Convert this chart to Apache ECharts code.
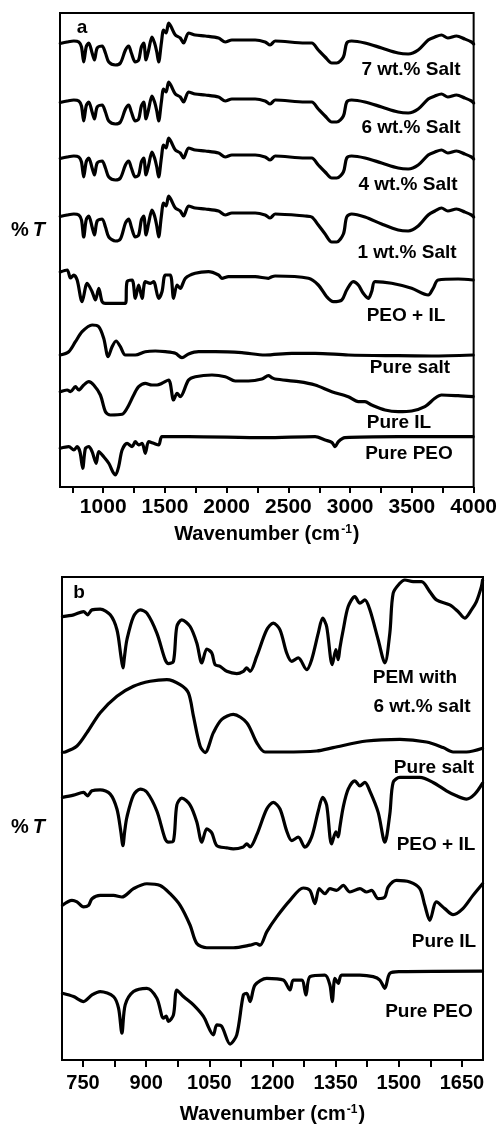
<!DOCTYPE html>
<html><head><meta charset="utf-8">
<script src="https://cdn.jsdelivr.net/npm/echarts@6/dist/echarts.min.js"></script>
<style>html,body{margin:0;padding:0;background:#fff}#c{width:500px;height:1125px}</style>
</head><body><div id="c"></div>
<script>
// ---------- Panel a (wavenumber cm-1, %T arbitrary offset units) ----------
const ticksA = [1000, 1500, 2000, 2500, 3000, 3500, 4000];
const minorTicksA = [750, 1000, 1250, 1500, 1750, 2000, 2250, 2500, 2750, 3000, 3250, 3500, 3750, 4000];
const wnSalt = [652,708,762,802,824,842,862,883,910,929,951,991,1018,1045,1099,1139,1180,1206,1228,1260,1287,1309,1328,1347,1368,1395,1416,1434,1449,1471,1489,1509,1530,1551,1584,1624,1651,1691,1745,1826,1934,1988,2042,2231,2311,2352,2392,2635,2689,2742,2797,2851,2891,2945,2972,3012,3120,3255,3389,3470,3551,3632,3686,3740,3791,3861,3928,3983,4000];
const salt7 = [443.5,445,446,445,440,425,440,444,434,427,439,441,434,425,422,424,437,441,434,425,427,440,444,427,437,450,444,435,425,444,457,454,464,460,452,449,444,454,452,451,449,445,447,447,445,442,446,444,444,437,430,424,424,430,444,446,444,439,434,433,437,447,450,452,449,451,448,445,443];
const salt6 = [384.5,386,387,386,381,366,381,385,375,368,380,382,375,366,363,365,378,382,375,366,368,381,385,368,378,391,385,376,366,385,398,395,405,401,393,390,385,395,393,392,390,386,388,388,386,383,387,385,385,378,371,365,365,371,385,387,385,380,375,374,378,388,391,393,390,392,389,386,384];
const salt4 = [328.5,330,331,330,325,310,325,329,319,312,324,326,319,310,307,309,322,326,319,310,312,325,329,312,322,335,329,320,310,329,342,339,349,345,337,334,329,339,337,336,334,330,332,332,330,327,331,329,329,322,315,309,309,315,329,331,329,324,319,318,322,332,335,337,334,336,333,330,328];
const salt1 = [270.5,272,273,272,267,250,267,271,260,252,266,268,260,250,246,248,264,268,260,250,252,267,271,252,264,277,271,261,250,271,284,281,291,287,279,276,271,281,279,278,276,272,274,274,272,269,273,271,270,262,253,245,245,253,270,273,270,263,257,256,261,272,276,279,276,278,275,272,270];

const wnPeoIlA = [652,708,735,762,789,829,870,910,937,964,991,1018,1180,1193,1234,1260,1287,1315,1341,1382,1408,1449,1476,1503,1543,1570,1598,1624,1665,1745,1853,1934,1961,2015,2231,2338,2366,2392,2662,2742,2810,2864,2932,2972,3025,3066,3106,3147,3174,3201,3336,3498,3632,3672,3713,3874,3996];
const peoIlA = [215,217,209,212,207,185.3,203.7,195.3,187,198.7,185.3,183.7,183.7,205.3,207,188.7,202,188.7,205.3,203.7,205.3,188.7,195.3,212,212,188.7,202,198.7,208.7,213.7,215.3,212,208.7,210.3,210.3,208.7,210.3,211,208.7,202,190.3,185.3,187,197,205.3,202,193.7,188.7,195.3,205.3,203.7,198.7,192,198.7,207,208,207];

const wnSaltPureA = [652,721,775,829,910,964,1004,1040,1072,1104,1139,1180,1260,1341,1422,1503,1584,1638,1691,1772,1907,2123,2311,2527,2716,2985,3389,3659,3996];
const saltPureA = [132,135.3,145.3,155.3,162,160.3,148.7,130.3,140.3,146,140.3,132,132,135.3,136,135.3,133.7,129.3,133,135.3,135.3,134.3,132,133.7,133.7,132,131.3,131,132];

const wnIlA = [652,708,735,775,802,842,883,923,977,1018,1058,1153,1193,1247,1287,1341,1395,1436,1476,1530,1570,1598,1624,1691,1746,1881,1988,2069,2176,2285,2338,2366,2392,2581,2716,2851,2985,3066,3120,3174,3282,3389,3498,3605,3686,3740,3874,3996];
const ilA = [95.3,97,95.3,100.3,97,102,105.3,102,92,75.3,72,72.7,78.7,92,100.3,103.7,102,102,103.7,107,87,93.7,90.3,107,110.3,112,110.3,106,106,108,111.3,109.3,108,105.3,102,95.3,90.3,85.3,85.3,82,77,75.3,76,80.3,88.7,92,91.3,90.3];

const wnPeoA = [652,721,762,789,812,834,856,883,910,943,964,1004,1045,1077,1099,1125,1153,1193,1234,1260,1287,1315,1341,1368,1408,1449,1476,1584,1691,2311,2716,2797,2851,2878,2904,2958,3389,3996];
const peoA = [38.7,40.3,37,40.3,35,18.7,38.7,40.3,35.3,23.7,35.3,30.3,23.7,15.3,12,20.3,37,43.7,40.3,45.3,42,43.7,33.7,45.3,43.7,42,50.3,50.3,50.3,49.3,50.3,47,44.7,40.3,45.3,49.3,50.3,50.3];

// ---------- Panel b ----------
const ticksB = [750, 900, 1050, 1200, 1350, 1500, 1650];
const minorTicksB = [750, 825, 900, 975, 1050, 1125, 1200, 1275, 1350, 1425, 1500, 1575, 1650];
const wnPemB = [701,727.5,751.2,760.7,771.2,790.8,814.6,830.5,839.5,844.7,849,854.2,869.8,885.7,901.6,925.3,945,952.9,964.7,972.8,984.6,1004.3,1020.2,1032.1,1043.9,1055.8,1063.6,1075.5,1091.4,1115.1,1130.8,1138.8,1146.7,1162.5,1186.3,1201.9,1217.8,1233.7,1245.6,1261.2,1281.1,1293,1308.7,1319.1,1328.6,1341.9,1350.6,1356.1,1360.1,1368,1379.8,1395.7,1407.6,1419.4,1431.3,1451,1466.9,1478.7,1486.6,1502.5,1514.3,1534,1553.9,1573.6,1589.5,1621.1,1640.7,1656.6,1672.5,1684.4,1696.2,1699];
const pemB = [445.3,447,450.3,447,452,452.7,447,432,407,393.7,407,422,445.3,452,448.7,428.7,402,398,400.3,435.3,442,435.3,418.7,398.7,412.7,408.7,397,395.3,390.3,388,390.3,393.7,390.3,405.3,432,438.7,432,408.7,400.3,403.7,392,402,428.7,443.7,435.3,397,412,402,413.7,432,455.3,465.3,458.7,462,452,422,398.7,428.7,468.7,478.7,482,480.3,480.3,470.3,462,457,450.3,443.7,452,460.3,475.3,482];

const wnSaltB = [701,707.8,735.6,759.3,790.8,830.5,869.8,909.4,949.1,980.6,1000.3,1012.2,1028,1039.9,1059.6,1079.5,1107,1138.8,1162.5,1182.2,1225.6,1304.9,1344.2,1423.5,1502.5,1565.8,1605.2,1628.9,1660.7,1699];
const saltB = [309,309.3,315.3,328.7,348.7,365.3,375.3,380.3,382,377,368.7,345.3,315.3,308.7,328.7,342,347,338.7,318.7,309.3,309.3,310.3,313.7,320.3,322,319.3,313.7,309.3,309.3,313];

const wnPeoIlB = [701,727.5,751.2,760.7,771.2,790.8,814.6,830.5,839.5,844.7,849,854.2,869.8,885.7,901.6,925.3,945,952.9,964.7,972.8,984.6,1004.3,1020.2,1032.1,1043.9,1055.8,1067.7,1091.4,1107,1130.8,1138.8,1146.7,1162.5,1186.3,1201.9,1217.8,1233.7,1245.6,1261.2,1277.1,1293,1308.7,1319.1,1328.6,1340.4,1350.6,1356.1,1360.1,1368,1379.8,1395.7,1407.6,1419.4,1431.3,1451,1466.9,1478.7,1486.6,1502.5,1549.9,1581.5,1613.2,1636.9,1660.7,1680.4,1699];
const peoIlB = [263.7,266,268.7,265.3,270.3,271.3,267,252,230,215.3,230,244,266,272,269,250,222,218.7,220,256,263,256,239,218.7,232,228,215.3,213,212,214,217,214,226,252,258.7,252,230,220.3,223.7,213.7,224,250,263.7,256,217,229,224,234,254,272,280.3,275.3,278.7,270,248.7,218.7,247,278.7,283.7,283.7,278.7,270.3,265.3,262,267,278];

const wnIlB = [701,723.7,735.6,751.2,763.1,771.2,790.8,822.4,842.3,869.8,901.6,933.2,956.9,980.6,1004.3,1020.2,1043.9,1107,1146.7,1160.9,1170.4,1186.3,1210,1241.5,1273.1,1288.9,1300.8,1311,1324.5,1336.4,1352.3,1368,1383.9,1407.6,1423.5,1435.3,1451,1466.9,1474.7,1494.6,1526.2,1549.9,1561.8,1573.6,1589.5,1609.2,1628.9,1652.2,1676.2,1699];
const ilB = [155.3,160.3,158.7,153.7,155.3,162,165.3,165.3,163.7,172,177,175.3,167,155.3,135.3,117,112.7,112.7,115.3,117,115.3,128.7,143.7,160.3,172.7,170.3,157,172,167,172,170.3,175.3,168.7,172,168.7,170.3,162,163.7,173.7,180.3,178.7,172,155.3,140.3,158.7,152,146,152,165.3,177];

const wnPeoB = [701,727.5,751.2,771.2,790.8,822.4,834.3,842.3,850.1,869.8,901.6,925.3,941,947.4,952.9,964.7,972.8,988.4,1012.2,1035.9,1059.6,1067.7,1079.5,1099.2,1115.1,1130.8,1138.8,1146.7,1158.5,1186.3,1225.6,1241.5,1249.4,1269.3,1279.5,1289,1324.5,1336.4,1341.9,1348.3,1356.1,1364.2,1407.6,1439.1,1455,1466.9,1478.7,1502.5,1699];
const peoB = [67,63.7,58.7,65.3,68.7,63.7,52,27,55.3,68.7,72,62,42,44,38.7,45.3,70.3,63.7,55.3,43.7,25.3,35.3,33.7,16,25.3,65.3,67,58.7,75.3,82,80.3,70.3,80.3,80.3,65.3,83.7,85.3,75.3,58.7,82,77,85.3,85.3,83.7,80.3,72,87,88.7,89.3];

const zip = (xs, ys) => xs.map((x, i) => [x, ys[i]]);
const FONT = '"Liberation Sans", Arial, sans-serif';

function line(name, xs, ys, idx) {
  return {
    name, type: 'line', xAxisIndex: idx, yAxisIndex: idx,
    data: zip(xs, ys), showSymbol: false, smooth: 0.3, clip: true,
    lineStyle: { color: '#000', width: 3.2, join: 'round', cap: 'round' }, silent: true, animation: false
  };
}

function xAxis(gridIndex, min, max, labels, ticks, margin, fs, gap, tickLen) {
  return {
    type: 'value', gridIndex, min, max,
    axisLine: { show: false },
    axisTick: { show: true, inside: false, length: tickLen, customValues: ticks, lineStyle: { color: '#000', width: 2 } },
    axisLabel: { customValues: labels, formatter: v => String(v), margin,
      fontFamily: FONT, fontSize: fs, fontWeight: 'bold', color: '#000' },
    splitLine: { show: false },
    name: 'Wavenumber (cm{sup|-1})', nameLocation: 'middle', nameGap: gap,
    nameTextStyle: { fontFamily: FONT, fontSize: 20, fontWeight: 'bold', color: '#000',
      rich: { sup: { fontFamily: FONT, fontSize: 12, fontWeight: 'bold', color: '#000', verticalAlign: 'top', padding: [0, 1, 0, 1] } } }
  };
}
function yAxis(gridIndex, max) {
  return { type: 'value', gridIndex, min: 0, max, show: true,
    axisLine: { show: false }, axisTick: { show: false }, axisLabel: { show: false }, splitLine: { show: false } };
}

function txt(text, x, y, size) {
  return { type: 'text', x, y, silent: true,
    style: { text, font: 'bold ' + (size || 19) + 'px ' + FONT, fill: '#000', textAlign: 'center', textVerticalAlign: 'middle' } };
}
function yLabel(x, y) {
  return { type: 'text', x, y, silent: true,
    style: { text: '{p|%}{t|T}', textAlign: 'center', textVerticalAlign: 'middle',
      rich: { p: { font: 'bold 20px ' + FONT, fill: '#000', padding: [0, 4, 0, 0] }, t: { font: 'italic bold 20px ' + FONT, fill: '#000' } } } };
}

const chart = echarts.init(document.getElementById('c'), null, { renderer: 'canvas' });
chart.setOption({
  backgroundColor: '#fff',
  animation: false,
  grid: [
    { left: 60, right: 26, top: 13, height: 474, show: true, borderColor: '#000', borderWidth: 2, backgroundColor: 'transparent' },
    { left: 62, right: 17, top: 577, height: 485, show: true, borderColor: '#000', borderWidth: 2, backgroundColor: 'transparent' }
  ],
  xAxis: [xAxis(0, 650, 4000, ticksA, minorTicksA, 10, 21, 37, 6), xAxis(1, 700, 1700, ticksB, minorTicksB, 13, 20, 44, 7)],
  yAxis: [yAxis(0, 474), yAxis(1, 485)],
  series: [
    line('7 wt.% Salt', wnSalt, salt7, 0),
    line('6 wt.% Salt', wnSalt, salt6, 0),
    line('4 wt.% Salt', wnSalt, salt4, 0),
    line('1 wt.% Salt', wnSalt, salt1, 0),
    line('PEO + IL', wnPeoIlA, peoIlA, 0),
    line('Pure salt', wnSaltPureA, saltPureA, 0),
    line('Pure IL', wnIlA, ilA, 0),
    line('Pure PEO', wnPeoA, peoA, 0),
    line('PEM with 6 wt.% salt', wnPemB, pemB, 1),
    line('Pure salt', wnSaltB, saltB, 1),
    line('PEO + IL', wnPeoIlB, peoIlB, 1),
    line('Pure IL', wnIlB, ilB, 1),
    line('Pure PEO', wnPeoB, peoB, 1)
  ],
  graphic: [
    txt('a', 82, 28), txt('b', 79, 593),
    txt('7 wt.% Salt', 411, 70), txt('6 wt.% Salt', 411, 128), txt('4 wt.% Salt', 408, 185),
    txt('1 wt.% Salt', 407, 253), txt('PEO + IL', 406, 316), txt('Pure salt', 410, 368),
    txt('Pure IL', 399, 423), txt('Pure PEO', 409, 454),
    txt('PEM with', 415, 678), txt('6 wt.% salt', 422, 707), txt('Pure salt', 434, 768),
    txt('PEO + IL', 436, 845), txt('Pure IL', 444, 942), txt('Pure PEO', 429, 1012),
    yLabel(28, 230), yLabel(28, 827)
  ]
});
</script></body></html>
